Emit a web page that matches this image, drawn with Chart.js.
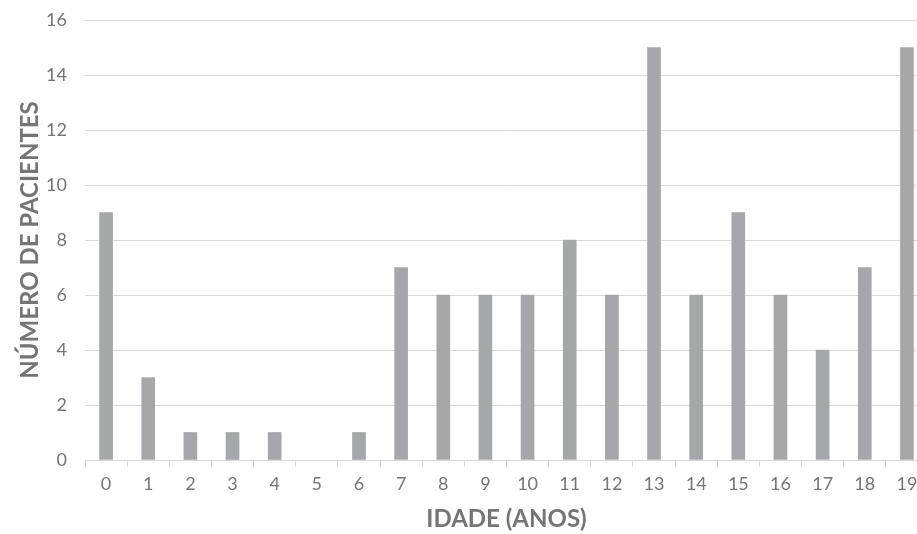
<!DOCTYPE html>
<html>
<head>
<meta charset="utf-8">
<script src="https://cdn.jsdelivr.net/npm/chart.js@4"></script>
<style>
  html, body { margin: 0; padding: 0; background: #fff; overflow: hidden; }
  #wrap { width: 917px; height: 534px; overflow: hidden; }
</style>
</head>
<body>
<div id="wrap"><canvas id="myChart" width="930" height="534"></canvas></div>
<script>
// idades (anos) e número de pacientes
const idades = ['0','1','2','3','4','5','6','7','8','9','10','11','12','13','14','15','16','17','18','19'];
const pacientes = [9, 3, 1, 1, 1, 0, 1, 7, 6, 6, 6, 8, 6, 15, 6, 9, 6, 4, 7, 15];
const yTicks = [0, 2, 4, 6, 8, 10, 12, 14, 16];

const cinza = '#757575';
const linha = '#d9d9d9';

const data = {
    labels: idades,
    datasets: [{
        label: 'Pacientes',
        backgroundColor: ctx => (ctx.raw === 0 ? 'rgba(0,0,0,0)' : '#a6a7aa'),
        borderWidth: 0,
        barThickness: 13,
        data: pacientes
    }]
};

const config = {
    type: 'bar',
    data: data,
    options: {
        responsive: false,
        animation: false,
        layout: { padding: { top: 20, left: 0, right: 2, bottom: 0 } },
        plugins: {
            legend: { display: false },
            tooltip: { enabled: false }
        },
        scales: {
            x: {
                offset: true,
                grid: {
                    offset: true,
                    drawOnChartArea: false,
                    drawTicks: true,
                    tickLength: 7,
                    color: linha
                },
                border: { color: linha, width: 1 },
                ticks: {
                    color: cinza,
                    font: { family: 'Lato', size: 18 },
                    padding: 6,
                    maxRotation: 0,
                    autoSkip: false
                },
                title: {
                    display: true,
                    text: 'IDADE (ANOS)',
                    color: cinza,
                    font: { family: 'Lato', size: 24, weight: 'bold' },
                    padding: { top: 4, bottom: 0 }
                },
                afterFit: function(scale) { scale.height = 74; }
            },
            y: {
                min: 0,
                max: 16,
                afterBuildTicks: function(scale) {
                    scale.ticks = yTicks.map(v => ({ value: v }));
                },
                grid: {
                    color: linha,
                    drawTicks: false
                },
                border: { display: false },
                ticks: {
                    color: cinza,
                    font: { family: 'Lato', size: 18 },
                    padding: 18
                },
                title: {
                    display: true,
                    text: 'NÚMERO DE PACIENTES',
                    color: cinza,
                    font: { family: 'Lato', size: 24, weight: 'bold' },
                    padding: { top: 16, bottom: 0 }
                },
                afterFit: function(scale) {
                    scale.width = 85;
                    scale.paddingTop = 0;
                    scale.paddingBottom = 0;
                }
            }
        }
    }
};

const myChart = new Chart(document.getElementById('myChart'), config);
</script>
</body>
</html>
